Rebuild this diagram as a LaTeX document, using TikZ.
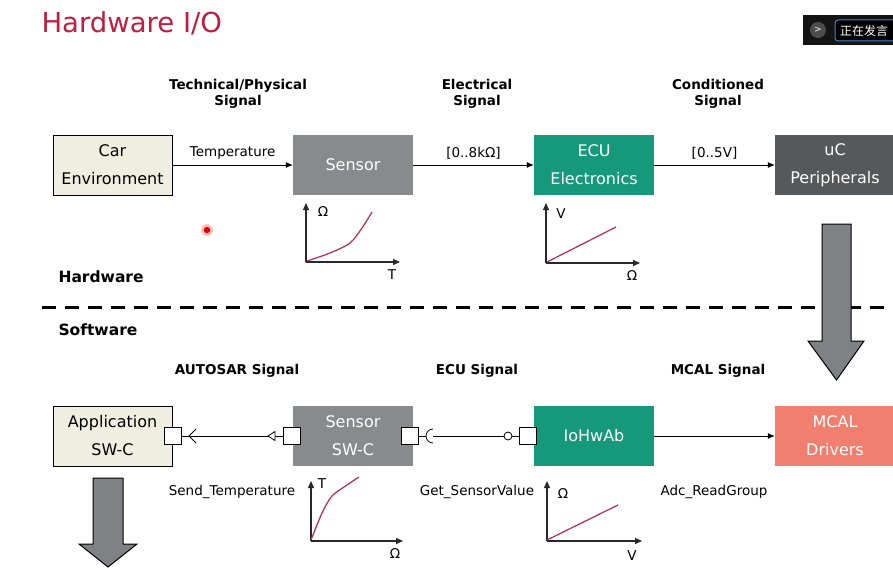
\documentclass[tikz,border=0pt]{standalone}
\usepackage{fontspec}
\setmainfont{DejaVu Sans}
\newfontfamily\cjkfont{Noto Sans CJK SC}
\usetikzlibrary{arrows.meta}
\definecolor{beige}{RGB}{239,238,224}
\definecolor{sgray}{RGB}{136,138,140}
\definecolor{teal}{RGB}{22,152,122}
\definecolor{dgray}{RGB}{86,89,91}
\definecolor{salmon}{RGB}{241,127,111}
\definecolor{titlered}{RGB}{190,30,65}
\definecolor{bigarrow}{RGB}{128,129,133}
\definecolor{curve}{RGB}{185,40,80}
\definecolor{axis}{RGB}{40,40,40}
\begin{document}
\begin{tikzpicture}[x=1pt,y=-1pt,
  blk/.style={minimum width=120pt,minimum height=60pt,inner sep=0pt,align=center,
    font=\fontsize{16}{28}\selectfont},
  hdr/.style={font=\fontsize{13.5}{16}\selectfont\bfseries,align=center},
  lbl/.style={font=\fontsize{13.5}{15}\selectfont},
  port/.style={draw,fill=white,minimum size=16.5pt,inner sep=0pt,line width=1pt},
  conn/.style={line width=0.8pt},
  ax/.style={line width=1.3pt,draw=axis,-{Triangle[length=7pt,width=6pt]}},
  crv/.style={line width=1.2pt,draw=curve},
  big/.style={fill=bigarrow,draw=black,line width=1pt,line join=miter}]
\useasboundingbox (0,0) rectangle (893,578);
\fill[white] (0,0) rectangle (893,578);

% title
\node[anchor=west,text=titlered,font=\fontsize{27.5}{30}\selectfont] (title) at (38,23) {Hardware I/O};

% overlay
\fill[black!92] (803,15) rectangle (893,45);
\fill[black!70] (818,30) circle (8);
\node[text=white,font=\fontsize{9}{9}\selectfont] (chev) at (818,30) {>};
\draw[draw={rgb,255:red,70;green,130;blue,200},line width=1pt,rounded corners=3pt,fill=black] (835,20) rectangle (900,41);
\node[anchor=west,text=white,font=\cjkfont\fontsize{12}{12}\selectfont,inner sep=0pt] (speak) at (840,31) {正在发言};

% headers
\node[hdr] (h1) at (238,94) {Technical/Physical\\Signal};
\node[hdr] (h2) at (477,94) {Electrical\\Signal};
\node[hdr] (h3) at (718,94) {Conditioned\\Signal};

% top boxes
\node[blk,draw,fill=beige,minimum width=119pt,line width=0.8pt] (car) at (112.5,165) {Car\\Environment};
\node[blk,fill=sgray,text=white] (sensor) at (353,165) {Sensor};
\node[blk,fill=teal,text=white] (ecu) at (594,165) {ECU\\Electronics};
\node[blk,fill=dgray,text=white] (uc) at (835,165) {uC\\Peripherals};

\draw[conn,-{Latex[length=7pt,width=6pt]}] (car) -- (sensor) node[midway,above=2pt,lbl] {Temperature};
\draw[conn,-{Latex[length=7pt,width=6pt]}] (sensor) -- (ecu) node[midway,above=2pt,lbl] {[0..8kΩ]};
\draw[conn,-{Latex[length=7pt,width=6pt]}] (ecu) -- (uc) node[midway,above=2pt,lbl] {[0..5V]};

% graph 1
\coordinate (g1o) at (306,262);
\draw[ax] (g1o) -- (306,203);
\draw[ax] (g1o) -- (400,262);
\node[lbl] (g1y) at (323,212) {Ω};
\node[lbl] (g1x) at (392,275) {T};
\draw[crv] plot[smooth] coordinates {(307,261) (330,253) (350,243) (362,228) (372,212)};

% graph 2
\coordinate (g2o) at (546,263);
\draw[ax] (g2o) -- (546,203);
\draw[ax] (g2o) -- (640,263);
\node[lbl] (g2y) at (561,214) {V};
\node[lbl] (g2x) at (632,276) {Ω};
\draw[crv] (547,262) -- (616,227);

% hardware / software separator
\node[anchor=west,font=\fontsize{15.5}{18}\selectfont\bfseries] (hw) at (55,277) {Hardware};
\draw[line width=3pt,dash pattern=on 14pt off 9pt] (42,307) -- (893,307);
\node[anchor=west,font=\fontsize{15.5}{18}\selectfont\bfseries] (sw) at (55,330) {Software};

% big arrow right
\draw[big] (822,224) -- (851,224) -- (851,341) -- (864,341) -- (836.5,380) -- (808,341) -- (822,341) -- cycle;

% bottom headers
\node[hdr] (b1) at (237,371) {AUTOSAR Signal};
\node[hdr] (b2) at (477,371) {ECU Signal};
\node[hdr] (b3) at (718,371) {MCAL Signal};

% bottom boxes
\node[blk,draw,fill=beige,minimum width=119pt,line width=0.8pt] (app) at (112.5,436) {Application\\SW-C};
\node[blk,fill=sgray,text=white] (swc) at (353,436) {Sensor\\SW-C};
\node[blk,fill=teal,text=white] (iohw) at (594,436) {IoHwAb};
\node[blk,fill=salmon,text=white] (mcal) at (835,436) {MCAL\\Drivers};

% ports
\node[port] (p1) at (173,436) {};
\node[port] (p2) at (292,436) {};
\node[port] (p3) at (410,436) {};
\node[port] (p4) at (528,436) {};

% sender-receiver connector
\draw[conn] (p1.east) -- (p2.west);
\draw[conn] (196,429) -- (189,436) -- (196,443);
\draw[conn,fill=white] (268,436) -- (275,431.5) -- (275,440.5) -- cycle;

% client-server connector
\coordinate (sk) at (426,436);
\coordinate (skc) at (433,436);
\coordinate (lo) at (504,436);
\coordinate (lo2) at (512,436);
\draw[conn] (p3.east) -- (sk);
\draw[conn] (433,443) arc[start angle=90,end angle=270,radius=7];
\draw[conn] (skc) -- (lo);
\draw[conn] (lo2) -- (p4.west);
\draw[conn,fill=white] (508,436) circle (4);

\draw[conn,-{Latex[length=7pt,width=6pt]}] (iohw) -- (mcal);

% bottom labels
\node[lbl] (l1) at (232,492) {Send\_Temperature};
\node[lbl] (l2) at (477,492) {Get\_SensorValue};
\node[lbl] (l3) at (714,492) {Adc\_ReadGroup};

% graph 3
\coordinate (g3o) at (311,541);
\draw[ax] (g3o) -- (311,481);
\draw[ax] (g3o) -- (403,541);
\node[lbl] (g3y) at (322,484) {T};
\node[lbl] (g3x) at (395,554) {Ω};
\draw[crv] plot[smooth] coordinates {(311,540) (322,513) (332,496) (347,485) (359,477)};

% graph 4
\coordinate (g4o) at (547,541);
\draw[ax] (g4o) -- (547,481);
\draw[ax] (g4o) -- (642,541);
\node[lbl] (g4y) at (563,494) {Ω};
\node[lbl] (g4x) at (632,556) {V};
\draw[crv] (547,540) -- (618,505);

% big arrow bottom-left
\draw[big] (93,478) -- (123,478) -- (123,544) -- (137,544) -- (108,567) -- (79,544) -- (93,544) -- cycle;

% pointer dot
\fill[red!25] (207,230) circle (6);
\fill[red!85!black] (207,230) circle (3.2);
\end{tikzpicture}
\end{document}
